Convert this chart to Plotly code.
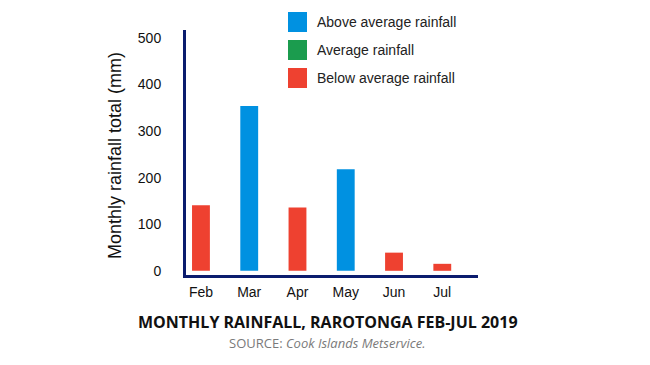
import plotly.graph_objects as go

months = ["Feb", "Mar", "Apr", "May", "Jun", "Jul"]
rainfall_mm = [141, 354, 136, 218, 39, 15]
status = ["Below", "Above", "Below", "Above", "Below", "Below"]

legend_labels = ["Above average rainfall", "Average rainfall", "Below average rainfall"]
legend_keys = ["Above", "Average", "Below"]
colors = {"Above": "#0091E1", "Average": "#1B9C4E", "Below": "#EE4130"}

y_ticks = [0, 100, 200, 300, 400, 500]

AXIS_COLOR = "#0B1C6E"
FONT = "Liberation Sans, Arial, sans-serif"

fig = go.Figure()
for key in legend_keys:
    xs = [m for m, s in zip(months, status) if s == key]
    ys = [v for v, s in zip(rainfall_mm, status) if s == key]
    fig.add_trace(go.Bar(
        x=xs, y=ys, name=legend_labels[legend_keys.index(key)],
        marker=dict(color=colors[key], line=dict(width=0)),
        width=0.37, showlegend=False,
    ))

# Manual legend (large square swatches)
row_px = [22, 50, 78]
plot_top, plot_h = 30, 245
plot_left, plot_w = 186, 292
def py(p):
    return (plot_top + plot_h - p) / plot_h
def px(p):
    return (p - plot_left) / plot_w
for key, lab, r in zip(legend_keys, legend_labels, row_px):
    fig.add_shape(type="rect", xref="paper", yref="paper",
                  x0=px(288), x1=px(307), y0=py(r + 10), y1=py(r - 10),
                  fillcolor=colors[key], line=dict(width=0))
    fig.add_annotation(xref="paper", yref="paper", x=px(315), y=py(r),
                       xanchor="left", yanchor="middle", showarrow=False,
                       text=lab, font=dict(family=FONT, size=14, color="#222222"))

# Y axis title
fig.add_annotation(xref="paper", yref="paper", x=px(115), y=py(156),
                   xanchor="center", yanchor="middle", showarrow=False, textangle=-90,
                   text="Monthly rainfall total (mm)",
                   font=dict(family=FONT, size=18, color="#111111"))

# Chart title and source
fig.add_annotation(xref="paper", yref="paper", x=px(328), y=py(322),
                   xanchor="center", yanchor="middle", showarrow=False,
                   text="<b>MONTHLY RAINFALL, RAROTONGA FEB-JUL 2019</b>",
                   font=dict(family="Open Sans, sans-serif", size=16, color="#111111"))
fig.add_annotation(xref="paper", yref="paper", x=px(327), y=py(343),
                   xanchor="center", yanchor="middle", showarrow=False,
                   text="SOURCE: <i>Cook Islands Metservice.</i>",
                   font=dict(family="Open Sans, sans-serif", size=13, color="#7a7a7a"))

fig.update_layout(
    width=650, height=365,
    margin=dict(l=186, r=172, t=30, b=90, autoexpand=False),
    paper_bgcolor="white", plot_bgcolor="white",
    barmode="overlay",
    font=dict(family=FONT, size=14, color="#111111"),
    showlegend=False,
)
fig.update_xaxes(
    type="category", categoryorder="array", categoryarray=months,
    range=[-0.31, 5.74], showline=True, linecolor=AXIS_COLOR, linewidth=3,
    showgrid=False, zeroline=False, ticks="", ticklabelstandoff=2,
    tickfont=dict(family=FONT, size=14, color="#111111"),
)
fig.update_yaxes(
    range=[-9, 517], tickvals=y_ticks, showline=True, linecolor=AXIS_COLOR, linewidth=3,
    showgrid=False, zeroline=False, ticks="", ticklabelstandoff=19,
    tickfont=dict(family=FONT, size=14, color="#111111"),
)

fig.write_html("out.html", config={"displayModeBar": False},
               post_script="document.body.style.margin='0';")
